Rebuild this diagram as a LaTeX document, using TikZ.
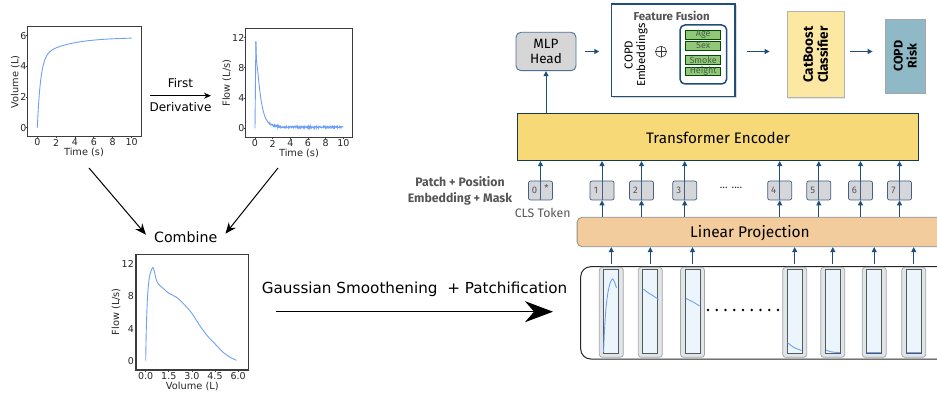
\documentclass[tikz,border=0pt]{standalone}
\usepackage{fontspec}
\setmainfont{DejaVu Sans}
\newfontfamily\plex{Fira Sans}
\usetikzlibrary{arrows.meta,shadows}
\definecolor{plotblue}{RGB}{110,160,245}
\definecolor{axgray}{RGB}{60,60,60}
\definecolor{navy}{RGB}{31,78,121}
\definecolor{tfyellow}{RGB}{248,217,120}
\definecolor{lpeach}{RGB}{243,204,158}
\definecolor{tokgray}{RGB}{212,214,218}
\definecolor{tokborder}{RGB}{70,95,130}
\definecolor{mlpgray}{RGB}{214,214,214}
\definecolor{cbyellow}{RGB}{252,232,163}
\definecolor{riskblue}{RGB}{143,185,199}
\definecolor{agegreen}{RGB}{146,199,122}
\definecolor{greentext}{RGB}{70,95,70}
\definecolor{patchouter}{RGB}{222,230,234}
\definecolor{patchinner}{RGB}{236,245,251}
\definecolor{labelgray}{RGB}{85,85,85}
\begin{document}
\begin{tikzpicture}[x=1pt,y=-1pt,
  axbox/.style={draw=axgray, line width=1.2pt, inner sep=0pt},
  tk/.style={draw=axgray, line width=0.8pt},
  ticklab/.style={font=\fontsize{9.5}{10}\selectfont, inner sep=0pt, text=black!85},
  axlab/.style={font=\fontsize{9.8}{11}\selectfont, inner sep=0pt, text=black!85},
  curve/.style={draw=plotblue, line width=0.9pt},
  blkarrow/.style={draw=black, line width=1pt, -{Stealth[length=11pt,width=9pt]}},
  bluearrow/.style={draw=navy, line width=1pt, -{Triangle[length=5pt,width=5pt]}},
  tokbox/.style={draw=tokborder, fill=tokgray, rounded corners=2pt, line width=0.7pt, minimum width=24pt, minimum height=19pt, inner sep=0pt},
  toklab/.style={font=\plex\fontsize{9.5}{10}\selectfont, text=labelgray, inner sep=0pt},
  pouter/.style={draw=black!35, fill=patchouter, rounded corners=3pt, line width=0.8pt, minimum width=24pt, minimum height=90pt, inner sep=0pt},
  pinner/.style={draw=black!65, fill=patchinner, line width=0.8pt, minimum width=15pt, minimum height=84pt, inner sep=0pt},
  greenbox/.style={draw=black!70!green, fill=agegreen, line width=0.6pt, minimum width=35pt, minimum height=8.7pt, inner sep=0pt, font=\plex\fontsize{9}{9}\selectfont, text=greentext},
  rfont/.style={font=\plex\fontsize{#1}{#1}\selectfont}
]
\useasboundingbox (0,0) rectangle (937,395);
\pgfmathsetseed{7}

% ---------- plot 1 ----------
\node[axbox, minimum width=114pt, minimum height=110pt] (p1) at (84.7,81.7) {};
\begin{scope}[shift={(37.3,127.7)}, xscale=9.43, yscale=-15.3]
\draw[curve] plot[domain=0:10, samples=160, smooth] (\x, {4.6*(1-exp(-\x/0.35))+1.3*(1-exp(-\x/3))});
\end{scope}
\foreach \v in {0,2,4,6} {\draw[tk] (27.7,{127.7-15.3*\v}) -- ++(-1.5,0);
  \node[ticklab,anchor=east] at (26.5,{127.7-15.3*\v}) {\v};}
\foreach \t in {0,2,...,10} {\draw[tk] ({37.3+9.43*\t},136.7) -- ++(0,1.5);
  \node[ticklab] at ({37.3+9.43*\t},142.5) {\t};}
\node[axlab] (p1x) at (84,152) {Time (s)};
\node[axlab, rotate=90] (p1y) at (15.3,82) {Volume (L)};

% ---------- plot 2 ----------
\node[axbox, minimum width=106.6pt, minimum height=109.4pt] (p2) at (299,83) {};
\begin{scope}[shift={(255,128.3)}, xscale=8.83, yscale=-7.55]
\draw[curve] (0,0) -- (0.1,11.5);
\draw[curve] plot[smooth, tension=0.6] coordinates {(0.1,11.5) (0.18,8.8) (0.3,7.7) (0.5,5.4) (0.75,3.3) (1.0,2.0) (1.25,1.2) (1.5,0.8)};
\draw[curve] plot[domain=1.5:10, samples=260] (\x,{0.15+0.65*exp(-(\x-1.5)/0.5)+0.12*rand});
\end{scope}
\foreach \v in {0,4,8,12} {\draw[tk] (245.7,{128.3-7.55*\v}) -- ++(-1.5,0);
  \node[ticklab,anchor=east] at (244.5,{128.3-7.55*\v}) {\v};}
\foreach \t in {0,2,...,10} {\draw[tk] ({255+8.83*\t},137.7) -- ++(0,1.5);
  \node[ticklab] at ({255+8.83*\t},143.5) {\t};}
\node[axlab] (p2x) at (299,153) {Time (s)};
\node[axlab, rotate=90] (p2y) at (226.7,83) {Flow (L/s)};

% ---------- first derivative ----------
\coordinate (fd1) at (150,95.7);
\coordinate (fd2) at (211,95.7);
\draw[draw=black, line width=0.9pt, -{Stealth[length=7pt,width=6pt]}] (fd1) -- (fd2)
  node[midway, above=4pt, font=\fontsize{12}{13}\selectfont] {First}
  node[midway, below=3pt, font=\fontsize{12}{13}\selectfont] {Derivative};

% ---------- combine ----------
\node[font=\fontsize{14.2}{16}\selectfont, inner xsep=8pt, inner ysep=0pt] (comb) at (185.7,237.7) {Combine};
\coordinate (s1) at (89,168);
\coordinate (s2) at (278,168);
\draw[blkarrow] (s1) -- ([yshift=3pt]comb.west);
\draw[blkarrow] (s2) -- ([yshift=4pt]comb.east);

% ---------- plot 3 ----------
\node[axbox, minimum width=112.3pt, minimum height=115.7pt] (p3) at (192.15,312.15) {};
\begin{scope}[shift={(145.7,360.7)}, xscale=15.4, yscale=-8.03]
\draw[curve] plot[smooth, tension=0.5] coordinates {(0,0) (0.04,4) (0.12,8) (0.25,10.5) (0.45,11.6) (0.55,11.2) (0.7,10.0) (0.9,9.4) (1.2,8.9) (1.5,8.4) (2.0,7.9) (2.5,7.0) (3.0,5.9) (3.5,4.4) (4.0,3.1) (4.5,2.1) (5.0,1.1) (5.5,0.4) (5.9,0.05)};
\end{scope}
\foreach \v in {0,4,8,12} {\draw[tk] (136,{360.7-8.03*\v}) -- ++(-1.5,0);
  \node[ticklab,anchor=east] at (134,{360.7-8.03*\v}) {\v};}
\foreach \t/\l in {0/0.0,1.5/1.5,3/3.0,4.5/4.5,6/6.0} {\draw[tk] ({145.7+15.4*\t},370) -- ++(0,1.5);
  \node[ticklab] at ({145.7+15.4*\t},375.7) {\l};}
\node[axlab] (p3x) at (192.3,386.7) {Volume (L)};
\node[axlab, rotate=90] (p3y) at (116,311.7) {Flow (L/s)};

% ---------- gaussian arrow ----------
\coordinate (g1) at (276,311.7);
\coordinate (g2) at (553,311.7);
\draw[draw=black, line width=1pt, -{Stealth[length=28pt,width=21pt,inset=9pt]}] (g1) -- (g2)
  node[midway, above=11pt, font=\fontsize{15.2}{17}\selectfont] {Gaussian Smoothening\ \ + Patchification};

% ---------- patches ----------
\draw[draw=black!85, line width=1pt, rounded corners=10pt] (580.7,266.7) rectangle (960,359);
\foreach \i/\x in {1/611.3,2/650.3,3/692.5,4/794.7,5/832.8,6/874.2,7/913.7} {
  \node[pouter] (po\i) at (\x,312.3) {};
  \node[pinner] (pi\i) at (\x,311) {};
}
\draw[curve] plot[smooth] coordinates {(603.6,352) (604.5,330) (606,308) (608,292) (610.5,282) (612.7,279) (614.5,282) (616.5,288)};
\draw[curve] plot[smooth] coordinates {(643.5,289) (647,292) (651,294.5) (655,297) (658.5,299.5)};
\draw[curve] plot[smooth] coordinates {(686,298.5) (690,300.5) (694,302.5) (699.5,306)};
\draw[curve] plot[smooth] coordinates {(787.5,342.5) (791,345.5) (795,348) (801.5,350.5)};
\draw[curve] plot[smooth] coordinates {(826,350) (830,351.6) (835,352.3) (839.8,352.5)};
\draw[curve] (867.2,352) -- (881.2,352);
\draw[curve] (906.7,352) -- (920.7,352);
\foreach \k in {0,...,8} {\fill[black] ({708+8.75*\k},310) circle (1.3pt);}

% ---------- linear projection ----------
\node[draw=black!45, fill=lpeach, rounded corners=5pt, line width=0.8pt, minimum width=380pt, minimum height=29.4pt, anchor=west, inner sep=0pt] (lp) at (576.7,232) {};
\node[rfont=15.5] (lpt) at (750,233) {Linear Projection};
\foreach \i in {1,...,7} {\draw[bluearrow] (po\i.north) ++(0,-3) -- (po\i.north |- lp.south);}

% ---------- tokens ----------
\node[draw=navy!70!black, fill=tfyellow, line width=0.8pt, minimum width=401pt, minimum height=47.4pt, inner sep=0pt] (tf) at (717.8,137) {};
\node[rfont=15.2] (tft) at (718,137.7) {Transformer Encoder};
\foreach \i/\x in {0/540.5,1/602,2/641.5,3/684.7,4/779.7,5/818.8,6/860.5,7/899.5} {
  \node[tokbox] (t\i) at (\x,190.5) {};
  \draw[draw=tokborder, line width=0.7pt] (t\i.north) -- (t\i.south);
  \node[toklab] at (\x-6,190.5) {\i};
  \draw[bluearrow] (t\i.north) -- (t\i.north |- tf.south);
}
\node[toklab] at (546.5,188) {*};
\foreach \i in {1,...,7} {\draw[bluearrow] (t\i.south |- lp.north) -- (t\i.south);}
\node[rfont=11, text=black!80] (tdots) at (731,188) {... ....};
\node[font=\plex\bfseries\fontsize{12.3}{16}\selectfont, text=labelgray, align=center] (pp) at (460,191.3) {Patch + Position\\Embedding + Mask};
\node[rfont=12.3, text=labelgray] (cls) at (542.7,212.7) {CLS Token};

% ---------- head ----------
\node[draw=navy!80, fill=mlpgray, rounded corners=5pt, line width=0.9pt, minimum width=60pt, minimum height=38.4pt, inner sep=0pt, align=center, rfont=13.5] (mlp) at (546,51.5) {MLP\\[1pt]Head};
\draw[bluearrow] (mlp.south |- tf.north) -- (mlp.south);

\node[draw=navy, fill=white, line width=1.5pt, minimum width=123.3pt, minimum height=92.7pt, inner sep=0pt, drop shadow={shadow xshift=1.5pt, shadow yshift=-1.5pt, opacity=0.3}] (ff) at (673.35,50.35) {};
\node[font=\plex\bfseries\fontsize{11.5}{12}\selectfont, text=labelgray] (fft) at (671.7,15.7) {Feature Fusion};
\node[rotate=90, align=center, rfont=11.5] (emb) at (636,55) {COPD\\[1pt]Embeddings};
\node[draw=black!80, circle, minimum size=11pt, inner sep=0pt, line width=0.6pt] (oplus) at (661,51.7) {};
\draw[black!80, line width=0.6pt] (oplus.north) -- (oplus.south) (oplus.west) -- (oplus.east);
\node[draw=navy, fill=white, rounded corners=5pt, line width=1.5pt, minimum width=46.7pt, minimum height=59pt, inner sep=0pt] (feat) at (703.35,54.5) {};
\node[greenbox] (age) at (703.2,34.7) {Age};
\node[greenbox] (sex) at (703.2,45.7) {Sex};
\node[greenbox] (smoke) at (703.2,59.7) {Smoke};
\node[greenbox] (height) at (703.2,71.3) {Height};

\node[draw=black!30, fill=cbyellow, line width=0.8pt, minimum width=56.7pt, minimum height=86pt, inner sep=0pt, drop shadow={shadow xshift=1pt, shadow yshift=-1pt, opacity=0.2}] (cb) at (815.65,54.7) {};
\node[rotate=90, align=center, font=\plex\bfseries\fontsize{13.5}{15}\selectfont] (cbt) at (815.65,54.7) {CatBoost\\Classifier};
\node[draw=black!35, fill=riskblue, line width=0.8pt, minimum width=39.3pt, minimum height=74.3pt, inner sep=0pt, drop shadow={shadow xshift=1pt, shadow yshift=-1pt, opacity=0.2}] (risk) at (905.35,56.15) {};
\node[rotate=90, align=center, font=\plex\bfseries\fontsize{12.5}{14}\selectfont] (riskt) at (905.35,56.15) {COPD\\Risk};

\draw[bluearrow, shorten <=9pt, shorten >=11.7pt] (mlp.east) -- (mlp.east -| ff.west);
\draw[bluearrow, shorten <=11.7pt, shorten >=17.3pt] (mlp.east -| ff.east) -- (mlp.east -| cb.west);
\draw[bluearrow, shorten <=6pt, shorten >=12.7pt] (mlp.east -| cb.east) -- (mlp.east -| risk.west);
\end{tikzpicture}
\end{document}
